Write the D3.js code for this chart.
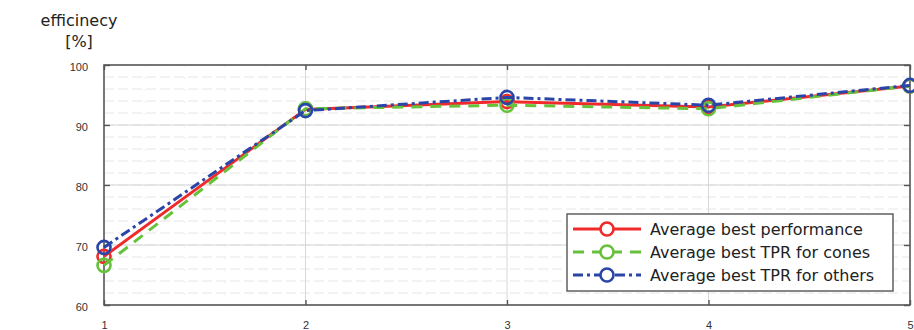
<!DOCTYPE html>
<html>
<head>
<meta charset="utf-8">
<script src="https://cdn.jsdelivr.net/npm/d3@7"></script>
<style>
  body { margin: 0; background: #fff; }
  svg { display: block; font-family: "DejaVu Sans", Verdana, sans-serif; }
</style>
</head>
<body>
<svg id="chart" width="914" height="330"></svg>
<script>
"use strict";
// chart data
const xValues = [1, 2, 3, 4, 5];
const yTicks = [60, 70, 80, 90, 100];
const bestPerformance = [68.1, 92.6, 93.9, 93.0, 96.5];
const tprCones = [66.6, 92.7, 93.3, 92.7, 96.5];
const tprOthers = [69.6, 92.4, 94.6, 93.3, 96.6];
const seriesNames = ["Average best performance", "Average best TPR for cones", "Average best TPR for others"];

(function() {
  const svg = d3.select("#chart");
  const left = 104, right = 910, top = 65, bottom = 305;

  const x = d3.scaleLinear().domain([1, 5]).range([left, right]);
  const y = d3.scaleLinear().domain([60, 100]).range([bottom, top]);

  // grid - minor first, then major
  const grid = svg.append("g");
  grid.selectAll(".hminor")
    .data(d3.range(60, 100.1, 2))
    .enter().append("line")
    .attr("x1", left).attr("x2", right)
    .attr("y1", d => y(d)).attr("y2", d => y(d))
    .attr("stroke", "#e6e6e6")
    .attr("stroke-dasharray", "10,4");
  grid.selectAll(".vminor")
    .data(d3.range(1, 5.01, 0.2))
    .enter().append("line")
    .attr("x1", d => x(d)).attr("x2", d => x(d))
    .attr("y1", top).attr("y2", bottom)
    .attr("stroke", "#efefef")
    .attr("stroke-dasharray", "2,10");
  grid.selectAll(".hmajor")
    .data(yTicks)
    .enter().append("line")
    .attr("x1", left).attr("x2", right)
    .attr("y1", d => y(d)).attr("y2", d => y(d))
    .attr("stroke", "#d4d4d4");
  grid.selectAll(".vmajor")
    .data(xValues)
    .enter().append("line")
    .attr("x1", d => x(d)).attr("x2", d => x(d))
    .attr("y1", top).attr("y2", bottom)
    .attr("stroke", "#d8d8d8");

  // frame
  svg.append("rect")
    .attr("x", left).attr("y", top)
    .attr("width", right - left).attr("height", bottom - top)
    .attr("fill", "none")
    .attr("stroke", "#5a5a5a")
    .attr("stroke-width", 1.6);

  // axes with inner ticks
  svg.append("g")
    .attr("transform", "translate(0," + bottom + ")")
    .call(d3.axisBottom(x).tickValues(xValues).tickFormat(d3.format("d"))
      .tickSizeInner(-5).tickSizeOuter(0).tickPadding(16));
  const axisLeft = svg.append("g")
    .attr("transform", "translate(" + left + ",0)")
    .call(d3.axisLeft(y).tickValues(yTicks).tickSizeInner(-6).tickSizeOuter(0).tickPadding(16));
  svg.append("g")
    .attr("transform", "translate(0," + top + ")")
    .call(d3.axisTop(x).tickValues(xValues).tickSizeInner(-5).tickSizeOuter(0).tickFormat(""));
  svg.append("g")
    .attr("transform", "translate(" + right + ",0)")
    .call(d3.axisRight(y).tickValues(yTicks).tickSizeInner(-6).tickSizeOuter(0).tickFormat(""));

  svg.selectAll(".domain").remove();
  svg.selectAll(".tick line").attr("stroke", "#555").attr("stroke-width", 1.4);
  svg.selectAll(".tick text")
    .attr("fill", "#333")
    .style("font-family", "'Liberation Sans', Arial, sans-serif")
    .style("font-size", "11px");
  axisLeft.selectAll(".tick text").attr("dy", "0.5em");

  // y label
  svg.append("text")
    .attr("x", 79).attr("y", 26)
    .attr("text-anchor", "middle")
    .attr("fill", "#222")
    .style("font-size", "16px")
    .text("efficinecy");
  svg.append("text")
    .attr("x", 79).attr("y", 47)
    .attr("text-anchor", "middle")
    .attr("fill", "#222")
    .style("font-size", "16px")
    .text("[%]");

  const series = [
    { name: seriesNames[0], values: bestPerformance, color: "#f02a2a", dash: null },
    { name: seriesNames[1], values: tprCones, color: "#66c23a", dash: "11,8" },
    { name: seriesNames[2], values: tprOthers, color: "#2a45a8", dash: "10,4,3,4" }
  ];

  const line = d3.line()
    .x((d, i) => x(xValues[i]))
    .y(d => y(d));

  series.forEach(s => {
    svg.append("path")
      .datum(s.values)
      .attr("d", line)
      .attr("fill", "none")
      .attr("stroke", s.color)
      .attr("stroke-width", 3)
      .attr("stroke-dasharray", s.dash);
    svg.selectAll(null)
      .data(s.values)
      .enter().append("circle")
      .attr("cx", (d, i) => x(xValues[i]))
      .attr("cy", d => y(d))
      .attr("r", 6.5)
      .attr("fill", "none")
      .attr("stroke", s.color)
      .attr("stroke-width", 2.6);
  });

  // legend
  const legend = svg.append("g").attr("transform", "translate(567,214)");
  legend.append("rect")
    .attr("width", 326).attr("height", 77)
    .attr("fill", "#fff")
    .attr("stroke", "#555")
    .attr("stroke-width", 1.4);
  series.forEach((s, i) => {
    const ly = 15 + i * 23;
    legend.append("line")
      .attr("x1", 6).attr("x2", 74)
      .attr("y1", ly).attr("y2", ly)
      .attr("stroke", s.color)
      .attr("stroke-width", 3)
      .attr("stroke-dasharray", s.dash);
    legend.append("circle")
      .attr("cx", 40).attr("cy", ly)
      .attr("r", 6.5)
      .attr("fill", "#fff")
      .attr("stroke", s.color)
      .attr("stroke-width", 2.6);
    legend.append("text")
      .attr("x", 83).attr("y", ly + 6)
      .attr("fill", "#222")
      .style("font-size", "16px")
      .text(s.name);
  });
})();
</script>
</body>
</html>
